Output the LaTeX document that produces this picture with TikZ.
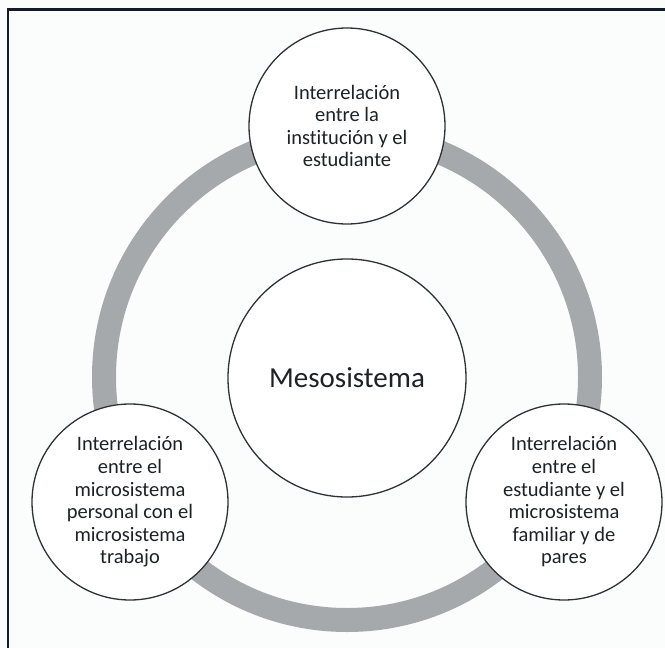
\documentclass[tikz,border=0pt]{standalone}
\usepackage{fontspec}
\setmainfont[Ligatures={NoCommon}]{Carlito}
\definecolor{ringgray}{HTML}{A6A9AC}
\definecolor{framecol}{HTML}{131B2A}
\definecolor{edgecol}{HTML}{2E3236}
\definecolor{bgcol}{HTML}{FBFCFC}
\definecolor{txtcol}{HTML}{1E2227}
\tikzset{
  bubble/.style={circle, draw=edgecol, line width=1.3pt, fill=white, inner sep=0pt, minimum size=196pt, align=center, text=txtcol, font=\fontsize{20.5pt}{22.6pt}\selectfont},
  hub/.style={circle, draw=edgecol, line width=1.3pt, fill=white, inner sep=0pt, minimum size=238pt, text=txtcol, font=\fontsize{29pt}{34pt}\selectfont},
}
\begin{document}
\begin{tikzpicture}[x=1pt,y=-1pt]
\useasboundingbox (0,0) rectangle (665,648);
\fill[bgcol] (0,0) rectangle (665,648);
\draw[framecol, line width=2.6pt] (8,648) -- (8,9.3) -- (665,9.3);
\draw[ringgray, line width=24pt] (347,377) circle[radius=243];
\node[hub] (meso) at (347,378) {Mesosistema};
\node[bubble] (top) at (347,126) {Interrelación\\entre la\\institución y el\\estudiante};
\node[bubble] (left) at (130,502) {Interrelación\\entre el\\microsistema\\personal con el\\microsistema\\trabajo};
\node[bubble] (right) at (564,502) {Interrelación\\entre el\\estudiante y el\\microsistema\\familiar y de\\pares};
\end{tikzpicture}
\end{document}
